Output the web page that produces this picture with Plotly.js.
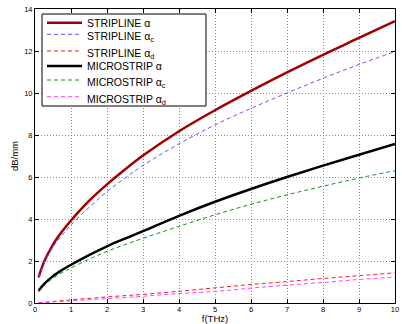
<!DOCTYPE html>
<html>
<head>
<meta charset="utf-8">
<script src="https://cdn.plot.ly/plotly-3.0.1.min.js"></script>
<style>html,body{margin:0;padding:0;background:#fff;}#chart{width:402px;height:324px;}</style>
</head>
<body>
<div id="chart"></div>
<script>
var freq = [0.1, 0.25, 0.5, 0.75, 1, 1.5, 2, 2.5, 3, 4, 5, 6, 7, 8, 9, 10];
var stripAlpha  = [1.22, 1.95, 2.78, 3.40, 3.93, 4.86, 5.65, 6.36, 7.02, 8.18, 9.18, 10.1, 10.98, 11.82, 12.62, 13.42];
var stripAlphaC = [1.2, 1.88, 2.68, 3.22, 3.72, 4.55, 5.3, 5.95, 6.55, 7.58, 8.48, 9.27, 10.0, 10.7, 11.36, 11.97];
var stripAlphaD = [0.01, 0.03, 0.07, 0.11, 0.15, 0.22, 0.29, 0.35, 0.41, 0.56, 0.72, 0.88, 1.02, 1.17, 1.30, 1.44];
var microAlpha  = [0.58, 0.9, 1.28, 1.57, 1.82, 2.28, 2.7, 3.07, 3.42, 4.15, 4.82, 5.43, 6.0, 6.54, 7.06, 7.57];
var microAlphaC = [0.52, 0.82, 1.18, 1.44, 1.67, 2.08, 2.46, 2.78, 3.08, 3.65, 4.2, 4.7, 5.15, 5.56, 5.95, 6.3];
var microAlphaD = [0.01, 0.02, 0.05, 0.08, 0.1, 0.16, 0.21, 0.26, 0.32, 0.45, 0.55, 0.71, 0.85, 0.98, 1.12, 1.23];
var names = ['STRIPLINE α', 'STRIPLINE α<sub>c</sub>', 'STRIPLINE α<sub>d</sub>',
             'MICROSTRIP α', 'MICROSTRIP α<sub>c</sub>', 'MICROSTRIP α<sub>d</sub>'];
var xTicks = [0,1,2,3,4,5,6,7,8,9,10];
var yTicks = [0,2,4,6,8,10,12,14];

var series = [stripAlpha, stripAlphaC, stripAlphaD, microAlpha, microAlphaC, microAlphaD];
var styles = [
  {color: '#a00000', width: 2.5, dash: 'solid'},
  {color: '#5a5aff', width: 1, dash: '4px,3px'},
  {color: '#ff1a1a', width: 1, dash: '4px,3px'},
  {color: '#000000', width: 2.5, dash: 'solid'},
  {color: '#1a8f1a', width: 1, dash: '4px,3px'},
  {color: '#ff40ff', width: 1, dash: '4px,3px'}
];
var data = series.map(function (y, i) {
  return {x: freq, y: y, name: names[i], type: 'scatter', mode: 'lines', showlegend: false,
          line: {color: styles[i].color, width: styles[i].width, dash: styles[i].dash, shape: 'spline', smoothing: 1}};
});

// plot area in pixels: left 35, right 395, top 9, bottom 303
function px2x(p) { return (p - 35) / 360; }
function px2y(p) { return 1 - (p - 9) / 294; }
var shapes = [{type: 'rect', xref: 'paper', yref: 'paper',
  x0: px2x(42), x1: px2x(206), y0: px2y(106), y1: px2y(14),
  line: {color: '#000', width: 1}, fillcolor: '#fff', layer: 'above'}];
var annotations = [];
var rowPx = [22.7, 34.3, 51, 66, 80, 96.7];
var font = 'Liberation Sans, Arial, sans-serif';
rowPx.forEach(function (r, i) {
  shapes.push({type: 'line', xref: 'paper', yref: 'paper', layer: 'above',
    x0: px2x(47), x1: px2x(82), y0: px2y(r), y1: px2y(r),
    line: {color: styles[i].color, width: styles[i].width, dash: styles[i].dash}});
  var sub = names[i].indexOf('<sub>') >= 0;
  annotations.push({xref: 'paper', yref: 'paper', x: px2x(85), y: px2y(r + (sub ? 3 : 0)),
    xanchor: 'left', yanchor: 'middle', showarrow: false, text: names[i],
    font: {family: font, size: 10.5, color: '#000'}});
});

var axisCommon = {
  showline: true, linecolor: '#000', linewidth: 1, mirror: 'ticks',
  ticks: 'inside', ticklen: 4, tickcolor: '#000', tickwidth: 1,
  showgrid: true, gridcolor: '#8c8c8c', gridwidth: 1, griddash: '1px,2px',
  zeroline: false, tickfont: {family: font, size: 7.5, color: '#000'}
};
var layout = {
  width: 402, height: 324,
  margin: {l: 35, r: 7, t: 9, b: 21},
  paper_bgcolor: '#fff', plot_bgcolor: '#fff',
  showlegend: false,
  shapes: shapes, annotations: annotations,
  xaxis: Object.assign({}, axisCommon, {range: [0, 10], tickvals: xTicks, ticklabelstandoff: -1,
           title: {text: 'f(THz)', font: {family: font, size: 9.5, color: '#000'}, standoff: 3}}),
  yaxis: Object.assign({}, axisCommon, {range: [0, 14], tickvals: yTicks,
           title: {text: 'dB/mm', font: {family: font, size: 9.5, color: '#000'}, standoff: 3}})
};
Plotly.newPlot('chart', data, layout, {displayModeBar: false, staticPlot: true});
</script>
</body>
</html>
